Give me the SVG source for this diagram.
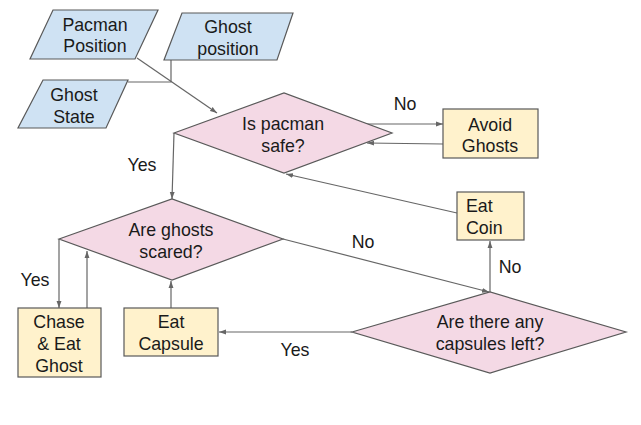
<svg xmlns="http://www.w3.org/2000/svg" width="641" height="425" viewBox="0 0 641 425">
<style>
.io{fill:#cfe2f3;stroke:#595959;stroke-width:1.2}
.dec{fill:#f4d9e5;stroke:#595959;stroke-width:1.2}
.act{fill:#fff2cc;stroke:#595959;stroke-width:1.2}
text{font-family:"Liberation Sans",Arial,sans-serif;font-size:17.8px;fill:#1a1a1a;text-anchor:middle}
.l{text-anchor:start}
.c{fill:none;stroke:#666;stroke-width:1.2}
</style>
<defs>
<marker id="ah" viewBox="0 0 10 10" refX="10" refY="5" markerWidth="7" markerHeight="7" markerUnits="userSpaceOnUse" orient="auto">
<path d="M0,1.5 L10,5 L0,8.5 z" fill="#666"/>
</marker>
</defs>
<rect width="641" height="425" fill="#fff"/>
<g id="connectors">
<path class="c" d="M137,58 L217,113" marker-end="url(#ah)"/>
<path class="c" d="M171,60 L171,82 L128,82"/>
<path class="c" d="M364,124 L443,124" marker-end="url(#ah)"/>
<path class="c" d="M443,144 L367,143" marker-end="url(#ah)"/>
<path class="c" d="M457,213 L286,174" marker-end="url(#ah)"/>
<path class="c" d="M174,133 L172,199" marker-end="url(#ah)"/>
<path class="c" d="M59,239 L59,308" marker-end="url(#ah)"/>
<path class="c" d="M87,308 L87,251" marker-end="url(#ah)"/>
<path class="c" d="M171,308 L171,281" marker-end="url(#ah)"/>
<path class="c" d="M352,332 L219,332" marker-end="url(#ah)"/>
<path class="c" d="M490,292 L490,241" marker-end="url(#ah)"/>
<path class="c" d="M283,239 L489,292" marker-end="url(#ah)"/>
<text x="405" y="110">No</text>
<text x="142" y="171">Yes</text>
<text x="35" y="286">Yes</text>
<text x="363" y="248">No</text>
<text x="510" y="273">No</text>
<text x="295" y="356">Yes</text>
</g>
<g id="pacman-position">
<polygon class="io" points="53,10 158,10 135,59 30,59"/>
<text x="95" y="31">Pacman</text>
<text x="95" y="52">Position</text>
</g>
<g id="ghost-position">
<polygon class="io" points="182,13 293,13 277,60 164,60"/>
<text x="228" y="33">Ghost</text>
<text x="228" y="55">position</text>
</g>
<g id="ghost-state">
<polygon class="io" points="43,80 128,80 106,128 18,128"/>
<text x="74" y="101">Ghost</text>
<text x="74" y="123">State</text>
</g>
<g id="is-pacman-safe">
<polygon class="dec" points="174,133 284,93 392,133 284,173"/>
<text x="283" y="130">Is pacman</text>
<text x="283" y="152">safe?</text>
</g>
<g id="avoid-ghosts">
<rect class="act" x="443" y="109" width="95" height="49"/>
<text x="490" y="131">Avoid</text>
<text x="490" y="152">Ghosts</text>
</g>
<g id="eat-coin">
<rect class="act" x="457" y="192" width="67" height="48"/>
<text class="l" x="466" y="212">Eat</text>
<text class="l" x="466" y="234">Coin</text>
</g>
<g id="are-ghosts-scared">
<polygon class="dec" points="59,239 172,199 283,239 172,280"/>
<text x="171" y="236">Are ghosts</text>
<text x="171" y="258">scared?</text>
</g>
<g id="chase-eat-ghost">
<rect class="act" x="18" y="308" width="83" height="69"/>
<text x="59" y="328">Chase</text>
<text x="59" y="350">&amp; Eat</text>
<text x="59" y="372">Ghost</text>
</g>
<g id="eat-capsule">
<rect class="act" x="124" y="308" width="94" height="48"/>
<text x="171" y="328">Eat</text>
<text x="171" y="350">Capsule</text>
</g>
<g id="capsules-left">
<polygon class="dec" points="352,332 490,292 626,332 490,373"/>
<text x="490" y="328">Are there any</text>
<text x="490" y="350">capsules left?</text>
</g>
</svg>
